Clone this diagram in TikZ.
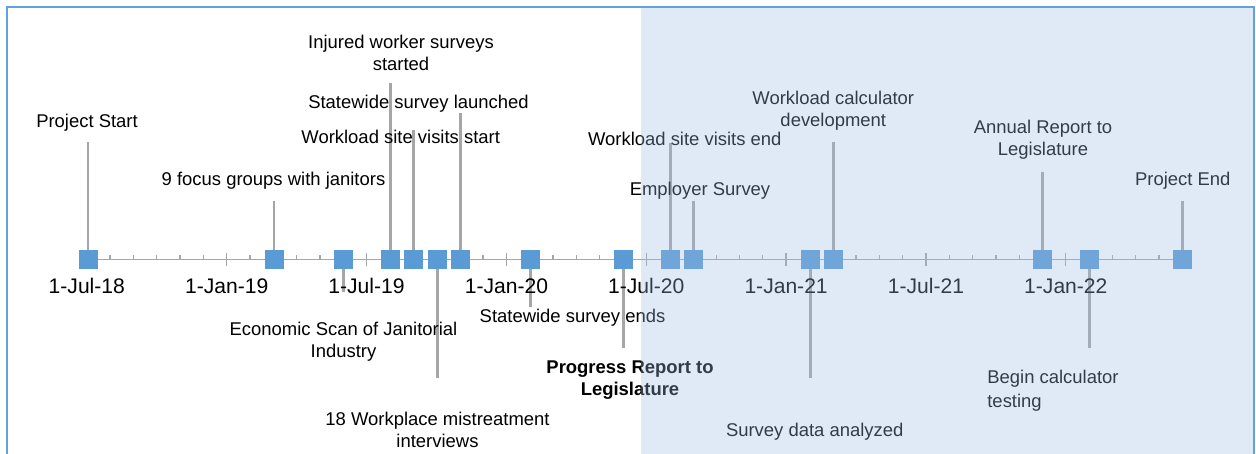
\documentclass[tikz,border=0pt]{standalone}
\usepackage{fontspec}
\setmainfont{Liberation Sans}
\usetikzlibrary{positioning, backgrounds}
\usepackage{xcolor}
\definecolor{eventblue}{HTML}{5B9BD5}
\definecolor{axisgray}{HTML}{A6A6A6}
\definecolor{frameblue}{RGB}{100,160,220}
\definecolor{shadeblue}{RGB}{154,189,226}

\begin{document}
\begin{tikzpicture}[
    x=0.02cm, y=-0.02cm,
    event/.style={
        fill=eventblue,
        minimum size=0.38cm,
        inner sep=0pt,
    },
    stem/.style={
        draw=axisgray,
        line width=1.7pt,
    },
    lbl/.style={
        font=\fontsize{10.5}{12}\selectfont,
        align=center,
        anchor=base,
        inner sep=0pt,
    },
    datelbl/.style={
        font=\fontsize{12}{14}\selectfont,
        anchor=base,
        inner sep=0pt,
    },
]
\useasboundingbox (0,0) rectangle (1256,453);
\clip (0,0) rectangle (1256,453);

% --- Event squares on the time axis ---
\node[event] (start)    at (88,259.5)   {};
\node[event] (focus)    at (274,259.5)  {};
\node[event] (econ)     at (343.5,259.5) {};
\node[event] (injured)  at (390.5,259.5) {};
\node[event] (wlstart)  at (413.5,259.5) {};
\node[event] (mistreat) at (437,259.5)  {};
\node[event] (swlaunch) at (460.5,259.5) {};
\node[event] (swend)    at (530,259.5)  {};
\node[event] (progress) at (623.5,259.5) {};
\node[event] (wlend)    at (670,259.5)  {};
\node[event] (employer) at (693.5,259.5) {};
\node[event] (analyzed) at (810,259.5)  {};
\node[event] (calcdev)  at (833.5,259.5) {};
\node[event] (annual)   at (1042.5,259.5) {};
\node[event] (testing)  at (1089.5,259.5) {};
\node[event] (finish)   at (1182.5,259.5) {};

% --- Stem ends ---
\coordinate (startTop)    at (88,142);
\coordinate (focusTop)    at (274,201);
\coordinate (econBot)     at (343.5,292);
\coordinate (injuredTop)  at (390.5,83);
\coordinate (wlstartTop)  at (413.5,130);
\coordinate (mistreatBot) at (437,378);
\coordinate (swlaunchTop) at (460.5,113);
\coordinate (swendBot)    at (530,307);
\coordinate (progressBot) at (623.5,348);
\coordinate (wlendTop)    at (670,143);
\coordinate (employerTop) at (693.5,201);
\coordinate (analyzedBot) at (810,378);
\coordinate (calcdevTop)  at (833.5,142);
\coordinate (annualTop)   at (1042.5,172);
\coordinate (testingBot)  at (1089.5,348);
\coordinate (finishTop)   at (1182.5,201);

% --- Axis, month ticks and stems behind the squares ---
\begin{scope}[on background layer]
\draw[axisgray, line width=1.1pt] (start.center) -- (finish.center);
\foreach \m in {1,...,46}
    \draw[axisgray, line width=0.7pt] (86.8+23.31*\m,260) -- (86.8+23.31*\m,255);
\foreach \m in {6,12,...,42}
    \draw[axisgray, line width=0.7pt] (86.8+23.31*\m,266) -- (86.8+23.31*\m,253);

\draw[stem] (startTop) -- (start);
\draw[stem] (focusTop) -- (focus);
\draw[stem] (econBot) -- (econ);
\draw[stem] (injuredTop) -- (injured);
\draw[stem] (wlstartTop) -- (wlstart);
\draw[stem] (mistreatBot) -- (mistreat);
\draw[stem] (swlaunchTop) -- (swlaunch);
\draw[stem] (swendBot) -- (swend);
\draw[stem] (progressBot) -- (progress);
\draw[stem] (wlendTop) -- (wlend);
\draw[stem] (employerTop) -- (employer);
\draw[stem] (analyzedBot) -- (analyzed);
\draw[stem] (calcdevTop) -- (calcdev);
\draw[stem] (annualTop) -- (annual);
\draw[stem] (testingBot) -- (testing);
\draw[stem] (finishTop) -- (finish);
\end{scope}

% --- Date labels ---
\foreach \m/\d in {0/1-Jul-18, 6/1-Jan-19, 12/1-Jul-19, 18/1-Jan-20,
                   24/1-Jul-20, 30/1-Jan-21, 36/1-Jul-21, 42/1-Jan-22}
    \node[datelbl] (date\m) at (86.8+23.31*\m,293) {\d};

% --- Event labels (base = last line) ---
\node[lbl] (startLbl)    at (87,127)    {Project Start};
\node[lbl] (focusLbl)    at (273.5,185) {9 focus groups with janitors};
\node[lbl] (econLbl)     at (343.5,357) {Economic Scan of Janitorial\\Industry};
\node[lbl] (injuredLbl)  at (401,70)    {Injured worker surveys\\started};
\node[lbl] (swlaunchLbl) at (418.5,108) {Statewide survey launched};
\node[lbl] (wlstartLbl)  at (400.7,143) {Workload site visits start};
\node[lbl] (mistreatLbl) at (437.5,447) {18 Workplace mistreatment\\interviews};
\node[lbl] (swendLbl)    at (572.5,322.7) {Statewide survey ends};
\node[lbl, font=\fontsize{10.5}{12}\selectfont\bfseries]
    (progressLbl) at (630,395) {Progress Report to\\Legislature};
\node[lbl] (wlendLbl)    at (684.8,145.7) {Workload site visits end};
\node[lbl] (employerLbl) at (700,195.7) {Employer Survey};
\node[lbl] (calcdevLbl)  at (833.3,126) {Workload calculator\\development};
\node[lbl] (analyzedLbl) at (814.7,436.7) {Survey data analyzed};
\node[lbl] (annualLbl)   at (1043,155)  {Annual Report to\\Legislature};
\node[lbl, align=left, anchor=base west,
    font=\fontsize{10.5}{13.5}\selectfont]
    (testingLbl) at (987,407) {Begin calculator\\testing};
\node[lbl] (finishLbl)   at (1182.8,185) {Project End};

% --- Shaded period and frame ---
\fill[shadeblue, opacity=0.32] (641,7) rectangle (1254,470);
\draw[frameblue, line width=0.04cm] (7,7) rectangle (1254,470);

\end{tikzpicture}
\end{document}
